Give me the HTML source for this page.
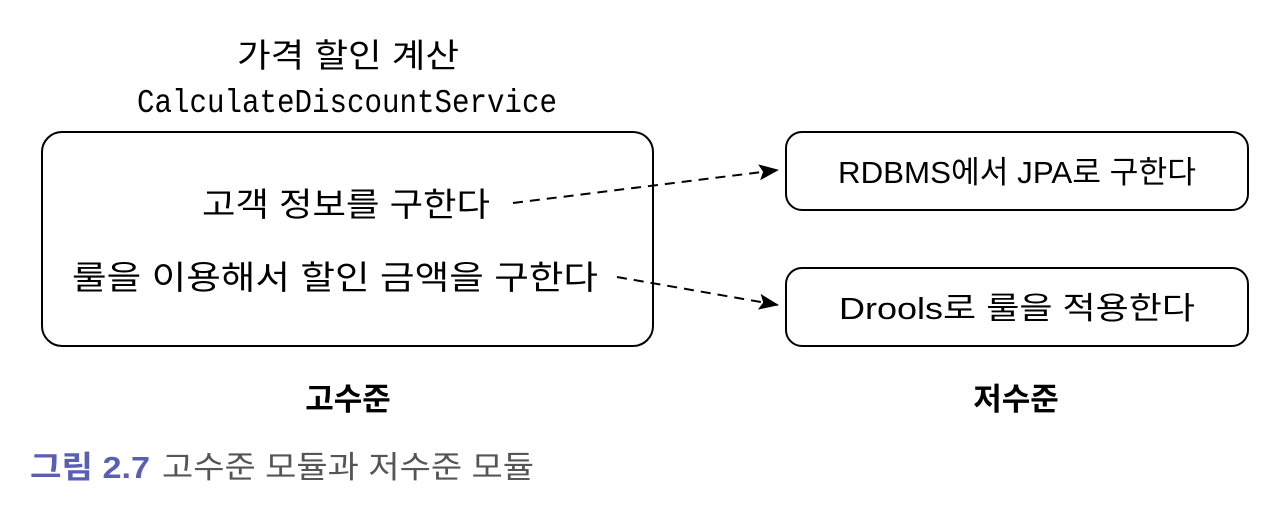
<!DOCTYPE html>
<html><head><meta charset="utf-8"><style>html,body{margin:0;padding:0;background:#fff}svg{display:block}</style></head>
<body>
<svg width="1274" height="512" viewBox="0 0 1274 512" xmlns="http://www.w3.org/2000/svg">
<defs><marker id="a" markerWidth="20" markerHeight="16" refX="19" refY="8" orient="auto" markerUnits="userSpaceOnUse"><path d="M0,0 L20,8 L0,16 L4,8 z" fill="#000"/></marker></defs>
<g font-family="'Liberation Sans','Noto Sans CJK KR',sans-serif" fill="#000">
<text x="348" y="67" font-size="33" text-anchor="middle" textLength="222" lengthAdjust="spacingAndGlyphs">가격 할인 계산</text>
<text x="347" y="112" font-size="33" font-family="'Liberation Mono',monospace" text-anchor="middle" textLength="420" lengthAdjust="spacingAndGlyphs">CalculateDiscountService</text>
<rect x="42" y="132" width="611" height="214" rx="20" fill="none" stroke="#000" stroke-width="2"/>
<text x="202" y="216" font-size="33" textLength="288" lengthAdjust="spacingAndGlyphs">고객 정보를 구한다</text>
<text x="72" y="289" font-size="33" textLength="526" lengthAdjust="spacingAndGlyphs">룰을 이용해서 할인 금액을 구한다</text>
<rect x="786" y="132" width="462" height="78" rx="16" fill="none" stroke="#000" stroke-width="2"/>
<rect x="786" y="268" width="462" height="78" rx="16" fill="none" stroke="#000" stroke-width="2"/>
<text x="1017" y="183" font-size="31" text-anchor="middle" textLength="358" lengthAdjust="spacingAndGlyphs">RDBMS에서 JPA로 구한다</text>
<text x="1017" y="319" font-size="31" text-anchor="middle" textLength="356" lengthAdjust="spacingAndGlyphs">Drools로 룰을 적용한다</text>
<line x1="513" y1="203" x2="778" y2="170" stroke="#000" stroke-width="2" stroke-dasharray="10,7" marker-end="url(#a)"/>
<line x1="617" y1="277" x2="778" y2="305" stroke="#000" stroke-width="2" stroke-dasharray="10,7" marker-end="url(#a)"/>
<text x="348" y="410" font-size="31" font-weight="bold" text-anchor="middle">고수준</text>
<text x="1016" y="410" font-size="31" font-weight="bold" text-anchor="middle">저수준</text>
<text x="30" y="478" font-size="31" font-weight="bold" fill="#5a5fb2" textLength="120" lengthAdjust="spacingAndGlyphs">그림 2.7</text>
<text x="162" y="478" font-size="31" fill="#555" textLength="372" lengthAdjust="spacingAndGlyphs">고수준 모듈과 저수준 모듈</text>
</g>
</svg>
</body></html>
